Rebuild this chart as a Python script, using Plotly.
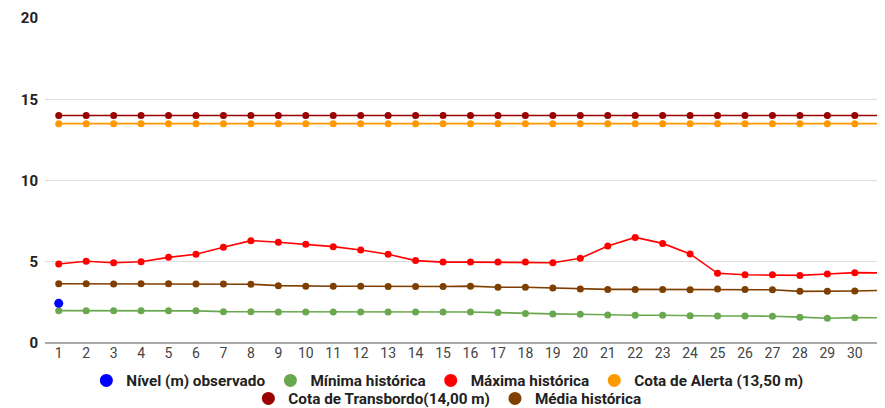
import plotly.graph_objects as go

dias = list(range(1, 32))
tick_dias = list(range(1, 31))

nivel_obs = [2.44] + [None] * 30
minima = [1.99, 1.99, 1.99, 1.99, 1.99, 1.98, 1.93, 1.93, 1.91, 1.91,
          1.91, 1.91, 1.91, 1.91, 1.91, 1.91, 1.87, 1.81, 1.79, 1.77,
          1.72, 1.71, 1.71, 1.67, 1.66, 1.66, 1.65, 1.59, 1.52, 1.56, 1.55]
maxima = [4.86, 5.03, 4.94, 5.00, 5.27, 5.46, 5.89, 6.30, 6.20, 6.07,
          5.93, 5.72, 5.46, 5.07, 4.98, 4.98, 4.98, 4.98, 4.94, 5.21,
          5.97, 6.50, 6.13, 5.48, 4.29, 4.20, 4.20, 4.16, 4.25, 4.33, 4.31]
media = [3.65, 3.65, 3.63, 3.64, 3.64, 3.63, 3.63, 3.62, 3.53, 3.49,
         3.49, 3.49, 3.48, 3.48, 3.48, 3.50, 3.43, 3.43, 3.38, 3.33,
         3.30, 3.30, 3.30, 3.28, 3.32, 3.30, 3.28, 3.18, 3.18, 3.20, 3.24]
cota_alerta = [13.5] * 31
cota_transbordo = [14.0] * 31

series = [
    ("Cota de Transbordo(14,00 m)", cota_transbordo, "#990000"),
    ("Cota de Alerta (13,50 m)", cota_alerta, "#ff9900"),
    ("Máxima histórica", maxima, "#ff0000"),
    ("Média histórica", media, "#7f3f00"),
    ("Mínima histórica", minima, "#6aa84f"),
]

fig = go.Figure()
for name, vals, color in series:
    fig.add_trace(go.Scatter(x=dias, y=vals, mode="lines+markers", name=name,
                             line=dict(color=color, width=1.6),
                             marker=dict(color=color, size=7),
                             showlegend=False))
fig.add_trace(go.Scatter(x=dias, y=nivel_obs, mode="markers", name="Nível (m) observado",
                         marker=dict(color="#0000ff", size=9), showlegend=False))

legend_items = [
    ("Nível (m) observado", "#0000ff", "legend"),
    ("Mínima histórica", "#6aa84f", "legend"),
    ("Máxima histórica", "#ff0000", "legend"),
    ("Cota de Alerta (13,50 m)", "#ff9900", "legend"),
    ("Cota de Transbordo(14,00 m)", "#990000", "legend2"),
    ("Média histórica", "#7f3f00", "legend2"),
]
for name, color, lg in legend_items:
    fig.add_trace(go.Scatter(x=[None], y=[None], mode="markers", name=name,
                             marker=dict(color=color, size=13), legend=lg,
                             showlegend=True))

legend_common = dict(orientation="h", xanchor="center", x=0.479, yanchor="middle",
                     font=dict(family="Roboto", size=15.3, color="#222222", weight="bold"),
                     itemwidth=30, tracegroupgap=0, bgcolor="rgba(0,0,0,0)",
                     traceorder="normal", borderwidth=0)
fig.update_layout(
    width=877, height=400,
    margin=dict(l=37, r=0, t=10, b=65, autoexpand=False),
    plot_bgcolor="white", paper_bgcolor="white",
    font=dict(family="Roboto", size=14, color="#444444"),
    xaxis=dict(range=[0.5, 31.1], tickvals=tick_dias, ticktext=[str(d) for d in tick_dias],
               showgrid=False, zeroline=False, showline=False, ticks="", automargin=False,
               tickfont=dict(family="Roboto", size=14, color="#444444")),
    yaxis=dict(range=[0, 20], tickvals=[0, 5, 10, 15, 20], showgrid=True,
               gridcolor="#dddddd", gridwidth=1, zeroline=True, zerolinecolor="#aaaaaa",
               zerolinewidth=1.5, showline=False, ticks="", automargin=False,
               ticklabelstandoff=6,
               tickfont=dict(family="Roboto", size=15, color="#222222", weight="bold")),
    legend=dict(y=-0.1154, **legend_common),
    legend2=dict(y=-0.1708, **legend_common),
)

fig.write_html("out.html")
